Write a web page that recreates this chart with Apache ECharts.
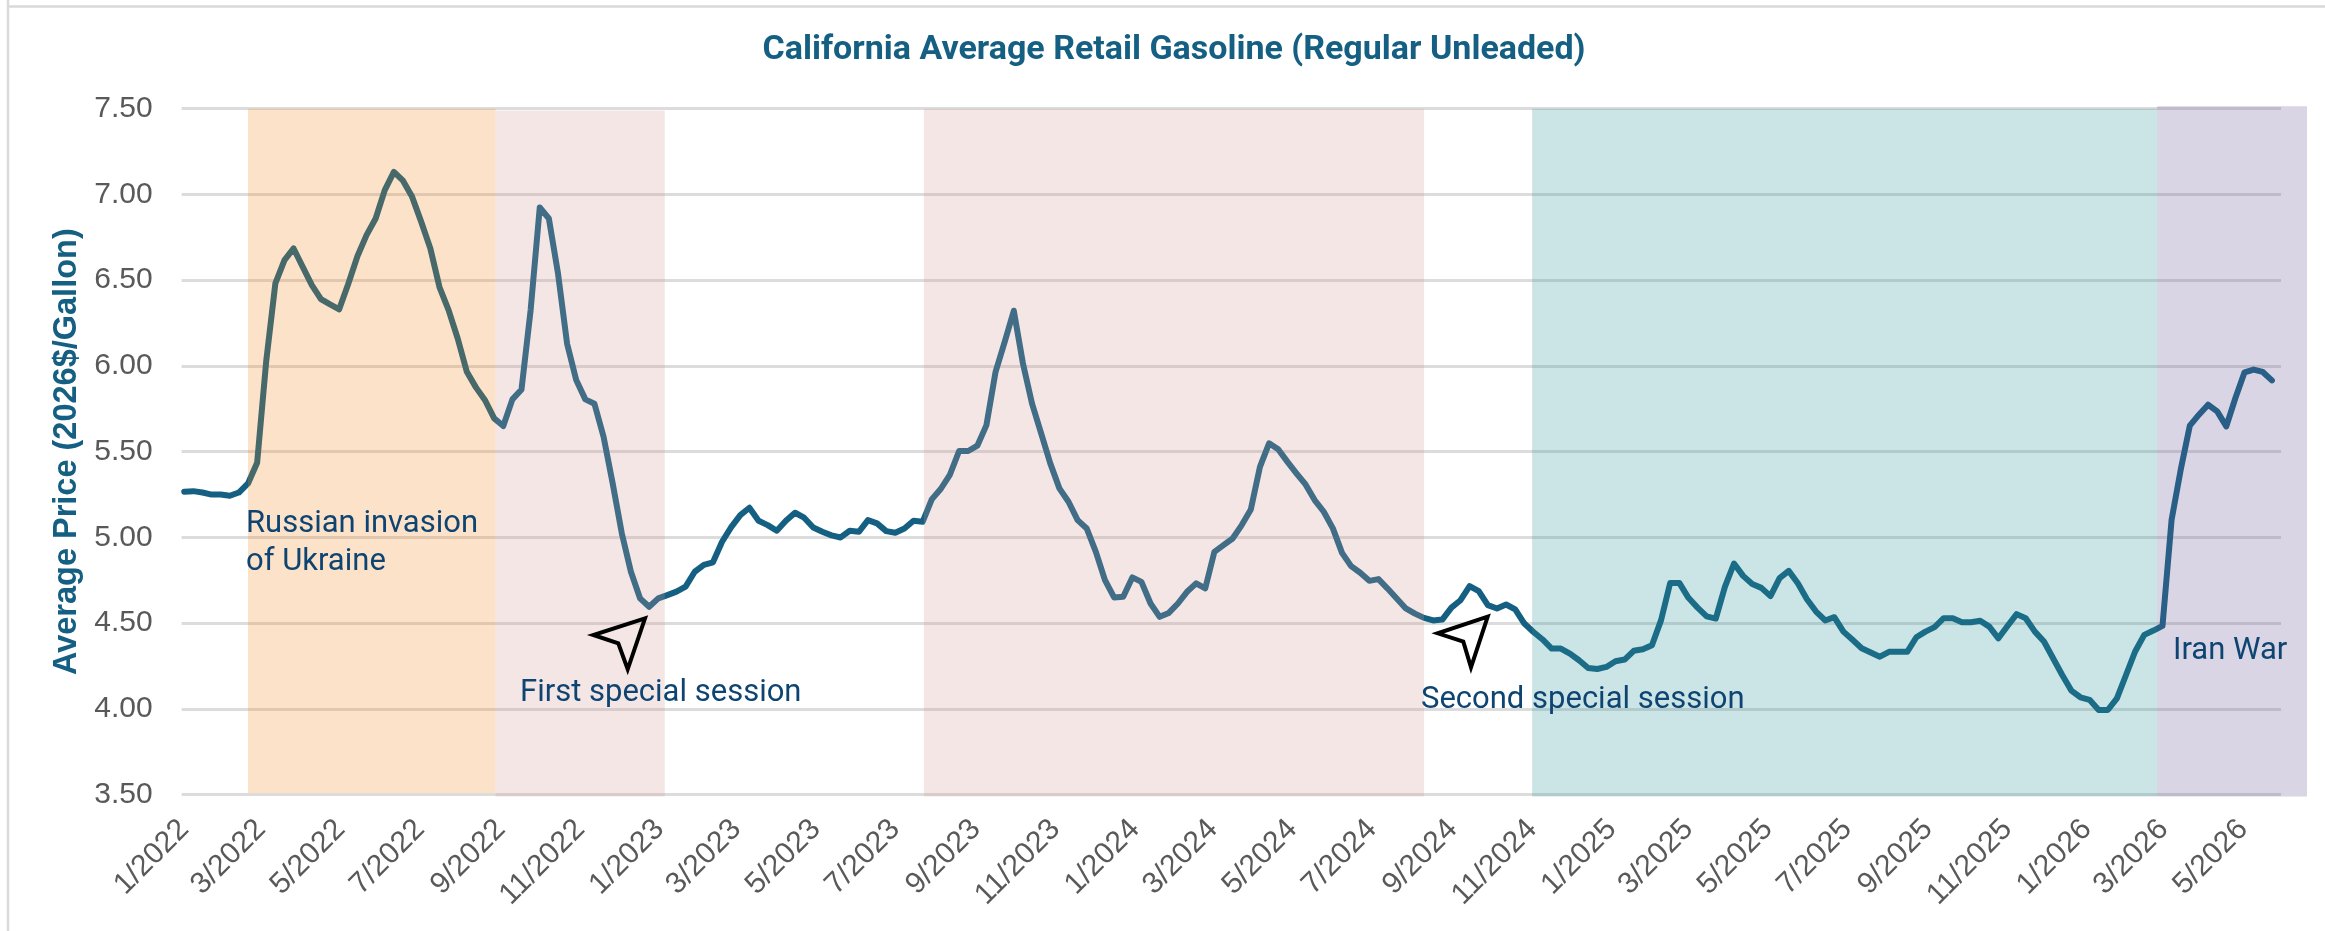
<!DOCTYPE html>
<html>
<head>
<meta charset="utf-8">
<title>California Average Retail Gasoline</title>
<script src="https://cdn.jsdelivr.net/npm/echarts@6/dist/echarts.min.js"></script>
<style>html,body{margin:0;padding:0;background:#fff}#c{width:2325px;height:931px}</style>
</head>
<body>
<div id="c"></div>
<script>
// Weekly prices, first week is 2022-01-03, one value per week
const firstWeek = '2022-01-03';
const priceValues = [
5.267,5.270,5.262,5.250,5.250,5.243,5.262,5.315,5.436,6.030,
6.481,6.617,6.685,6.578,6.471,6.390,6.359,6.330,6.480,6.640,
6.763,6.860,7.025,7.132,7.080,6.986,6.840,6.685,6.460,6.326,
6.160,5.966,5.875,5.800,5.694,5.650,5.805,5.863,6.326,6.924,
6.860,6.540,6.130,5.918,5.805,5.780,5.587,5.315,5.024,4.800,
4.645,4.596,4.645,4.664,4.684,4.713,4.800,4.840,4.855,4.975,
5.060,5.130,5.173,5.097,5.072,5.039,5.097,5.144,5.115,5.058,
5.033,5.012,5.000,5.039,5.033,5.101,5.082,5.037,5.027,5.052,
5.097,5.091,5.222,5.284,5.367,5.504,5.504,5.535,5.655,5.966,
6.141,6.322,6.015,5.780,5.607,5.432,5.286,5.208,5.101,5.052,
4.916,4.751,4.650,4.654,4.767,4.741,4.615,4.537,4.560,4.615,
4.683,4.732,4.703,4.916,4.955,4.994,5.072,5.163,5.412,5.549,
5.514,5.442,5.374,5.309,5.218,5.150,5.053,4.910,4.833,4.794,
4.747,4.757,4.702,4.644,4.586,4.556,4.531,4.516,4.521,4.591,
4.634,4.716,4.687,4.605,4.586,4.609,4.580,4.498,4.449,4.405,
4.352,4.352,4.323,4.284,4.239,4.233,4.245,4.278,4.288,4.339,
4.348,4.372,4.518,4.735,4.735,4.648,4.591,4.540,4.527,4.712,
4.848,4.776,4.728,4.706,4.658,4.763,4.805,4.733,4.640,4.568,
4.516,4.535,4.451,4.403,4.354,4.329,4.305,4.333,4.333,4.333,
4.418,4.451,4.477,4.529,4.529,4.506,4.506,4.514,4.480,4.412,
4.484,4.553,4.529,4.451,4.393,4.296,4.198,4.107,4.068,4.053,
3.994,3.994,4.062,4.198,4.335,4.432,4.457,4.484,5.103,5.395,
5.652,5.716,5.774,5.735,5.648,5.813,5.963,5.979,5.965,5.916
];
const tickLabels = [
'1/2022','3/2022','5/2022','7/2022','9/2022','11/2022',
'1/2023','3/2023','5/2023','7/2023','9/2023','11/2023',
'1/2024','3/2024','5/2024','7/2024','9/2024','11/2024',
'1/2025','3/2025','5/2025','7/2025','9/2025','11/2025',
'1/2026','3/2026','5/2026'
];
// Event periods: start, end, colour, top value, bottom value
const bandStart = ['2022-02-21','2022-08-30','2023-07-25','2024-11-03','2026-02-26'];
const bandEnd   = ['2022-08-30','2023-01-07','2024-08-12','2026-02-26','2026-06-21'];
const bandColor = ['rgba(240,135,30,0.24)','rgba(215,150,150,0.24)','rgba(215,150,150,0.24)','rgba(47,147,151,0.25)','rgba(103,87,147,0.25)'];
const bandTop   = [7.5,7.49,7.5,7.5,7.515];
const bandBase  = [3.51,3.49,3.49,3.49,3.49];
const AXIS_MIN = '2022-01-01', AXIS_MAX = '2026-06-01', BAND_AXIS_MAX = '2026-06-21';

const DAY = 86400000;
const ms = d => new Date(d + 'T00:00:00Z').getTime();
const t0 = ms(firstWeek);
const lineData = priceValues.map((v,i)=>[t0 + i*7*DAY, v]);
const tickDates = tickLabels.map(s=>{const [m,y]=s.split('/');return ms(y+'-'+String(m).padStart(2,'0')+'-03');});
const labelFor = {};
tickDates.forEach((d,i)=>{labelFor[d] = tickLabels[i];});

const INK = '#0E4472', TEAL = '#156082', GREY = '#595959';
const annoFont = 'Roboto';
function note(x,y,text){
  return {type:'text',z:50,left:x,top:y-12.5,
    style:{text:text,font:'400 31px '+annoFont,fill:INK}};
}
function arrow(p){
  return {type:'polygon',z:50,shape:{points:p},style:{fill:'none',stroke:'#000',lineWidth:4,lineJoin:'miter'}};
}
const chart = echarts.init(document.getElementById('c'),null,{renderer:'canvas'});
chart.setOption({
  animation:false,
  backgroundColor:'#fff',
  title:{text:'California Average Retail Gasoline (Regular Unleaded)',left:1169,top:28.5,textAlign:'center',
    textStyle:{fontFamily:'Roboto',fontWeight:'bold',fontSize:34,color:TEAL}},
  grid:[
    {left:181.6,top:108.7,width:2099.4,height:686},
    {left:181.6,top:105.27,width:2125.4,height:692.86}
  ],
  xAxis:[
    {type:'value',gridIndex:0,min:ms(AXIS_MIN),max:ms(AXIS_MAX),
     axisLine:{show:false},axisTick:{show:false},splitLine:{show:false},
     axisLabel:{customValues:tickDates,rotate:45,margin:30,fontFamily:'Liberation Sans',fontSize:30,color:GREY,hideOverlap:false,
       formatter:(v)=>labelFor[v]||''}},
    {type:'value',gridIndex:1,min:ms(AXIS_MIN),max:ms(BAND_AXIS_MAX),show:false,splitLine:{show:false}}
  ],
  yAxis:[
    {type:'value',gridIndex:0,min:3.5,max:7.5,interval:0.5,
     name:'Average Price (2026$/Gallon)',nameLocation:'middle',nameGap:98,
     nameTextStyle:{fontFamily:'Liberation Sans',fontWeight:'bold',fontSize:32.5,color:TEAL},
     axisLine:{show:false},axisTick:{show:false},
     splitLine:{show:true,lineStyle:{color:'#dcdcdc',width:3}},
     axisLabel:{margin:29,fontFamily:'Liberation Sans',fontSize:30,color:GREY,formatter:(v)=>v.toFixed(2)}},
    {type:'value',gridIndex:1,min:3.48,max:7.52,show:false,splitLine:{show:false}}
  ],
  series:[
    {type:'line',xAxisIndex:0,yAxisIndex:0,z:3,data:lineData,showSymbol:false,smooth:false,
     lineStyle:{color:TEAL,width:6,cap:'round',join:'round'}},
    {type:'line',xAxisIndex:1,yAxisIndex:1,z:5,data:[],showSymbol:false,silent:true,
     markArea:{silent:true,z:10,data:bandStart.map((s,i)=>[
       {xAxis:ms(s),yAxis:bandBase[i],itemStyle:{color:bandColor[i]}},
       {xAxis:ms(bandEnd[i]),yAxis:bandTop[i]}
     ])}}
  ],
  graphic:[
    {type:'line',z:1,shape:{x1:8,y1:0,x2:8,y2:931},style:{stroke:'#d9d9d9',lineWidth:2.5}},
    {type:'line',z:1,shape:{x1:8,y1:6.5,x2:2325,y2:6.5},style:{stroke:'#d9d9d9',lineWidth:2.5}},
    note(246,521,'Russian invasion'),
    note(246,559,'of Ukraine'),
    note(520,690,'First special session'),
    note(1421,697,'Second special session'),
    note(2173,648,'Iran War'),
    arrow([[645,618.3],[593.3,635],[618.3,643.3],[627.7,669.3]]),
    arrow([[1487.7,616.7],[1437.7,633.3],[1463.3,641.7],[1471,667.3]])
  ]
});
</script>
</body>
</html>
